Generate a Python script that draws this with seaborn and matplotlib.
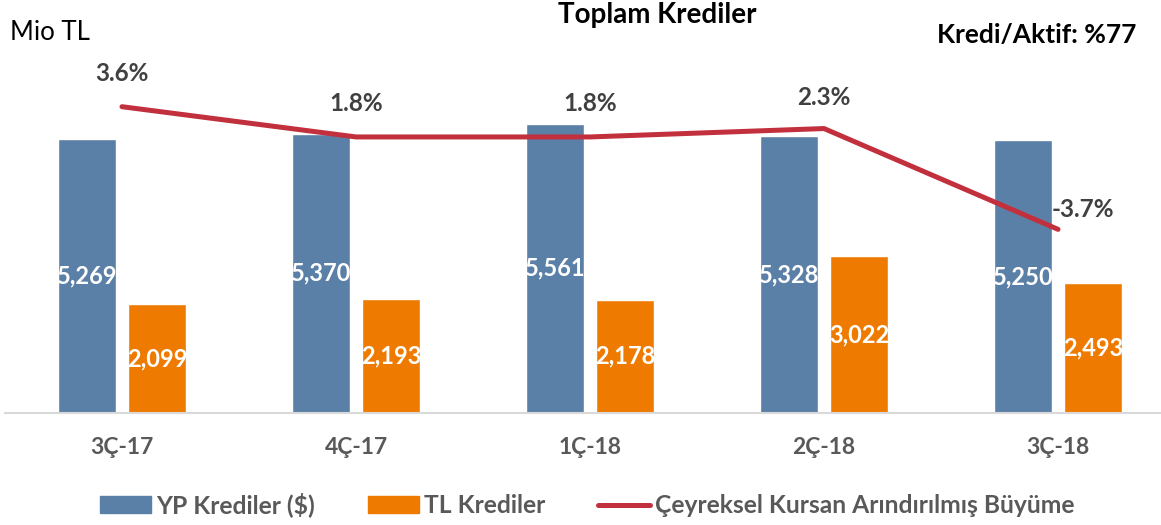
import matplotlib
matplotlib.use("Agg")
import matplotlib.pyplot as plt
import seaborn as sns
import pandas as pd
from matplotlib.patches import Patch
from matplotlib.lines import Line2D

quarters = ['3Ç-17', '4Ç-17', '1Ç-18', '2Ç-18', '3Ç-18']
yp_krediler = [5269, 5370, 5561, 5328, 5250]
tl_krediler = [2099, 2193, 2178, 3022, 2493]
buyume = [3.6, 1.8, 1.8, 2.3, -3.7]
series_names = ['YP Krediler ($)', 'TL Krediler']
line_name = 'Çeyreksel Kursan Arındırılmış Büyüme'

BLUE = '#5B80A7'
ORANGE = '#EF7A00'
RED = '#C1303C'
GRAY = '#595959'

sns.set_style('white')
plt.rcParams['font.family'] = ['Lato', 'DejaVu Sans']

df = pd.DataFrame({
    'quarter': quarters * 2,
    'value': yp_krediler + tl_krediler,
    'series': [series_names[0]] * len(quarters) + [series_names[1]] * len(quarters),
})

W, H = 1161, 525
fig = plt.figure(figsize=(W / 100, H / 100), dpi=100)
ax = fig.add_axes([5 / W, 1 - 413 / H, 1 - 5 / W, (413 - 40) / H])

sns.barplot(data=df, x='quarter', y='value', hue='series', order=quarters,
            hue_order=series_names, palette=[BLUE, ORANGE], width=0.6, gap=0.18,
            saturation=1, legend=False, ax=ax)
for cont in ax.containers:
    ax.bar_label(cont, labels=[f'{v:,.0f}' for v in cont.datavalues],
                 label_type='center', color='white', fontsize=17, fontweight='bold')

ax.set_xlim(-0.5, 4.44)
ax.set_ylim(0, 7173)
ax.set_yticks([])
ax.set_xlabel('')
ax.set_ylabel('')
ax.tick_params(axis='x', length=0, pad=17, labelsize=16.5, labelcolor=GRAY)
for lbl in ax.get_xticklabels():
    lbl.set_fontweight('bold')
for s in ['top', 'left', 'right']:
    ax.spines[s].set_visible(False)
ax.spines['bottom'].set_color('#D9D9D9')
ax.spines['bottom'].set_linewidth(1.5)

# growth line on a second axis
ax2 = ax.twinx()
line_df = pd.DataFrame({'pos': list(range(len(quarters))), 'growth': buyume})
sns.lineplot(data=line_df, x='pos', y='growth', color=RED, linewidth=3.6, ax=ax2,
             solid_capstyle='round')
ax2.set_ylim(-14.63, 7.57)
ax2.axis('off')

offsets = [(0, 33), (0, 33), (0, 33), (0, 31), (25, 20)]
for i, (v, off) in enumerate(zip(buyume, offsets)):
    ax2.annotate(f'{v:.1f}%', (i, v), xytext=off, textcoords='offset pixels',
                 ha='center', va='center', fontsize=17.5, fontweight='bold', color='#404040')

fig.text(657 / W, 1 - 15 / H, 'Toplam Krediler', ha='center', va='center',
         fontsize=20, fontweight='bold', color='black')
fig.text(10 / W, 1 - 33 / H, 'Mio TL', ha='left', va='center', fontsize=18.5, color='black')
fig.text(1136 / W, 1 - 35 / H, 'Kredi/Aktif: %77', ha='right', va='center',
         fontsize=19, fontweight='bold', color='black')

handles = [Patch(color=BLUE), Patch(color=ORANGE),
           Line2D([], [], color=RED, linewidth=3.6, solid_capstyle='round')]
leg = fig.legend(handles, series_names + [line_name], loc='center', ncol=3,
                 bbox_to_anchor=(587 / W, 1 - 505 / H), frameon=False,
                 fontsize=17.7, handlelength=2.1, handleheight=0.7,
                 handletextpad=0.2, columnspacing=2.15)
for t in leg.get_texts():
    t.set_color(GRAY)
    t.set_fontweight('bold')

fig.savefig('out.png', dpi=100)
